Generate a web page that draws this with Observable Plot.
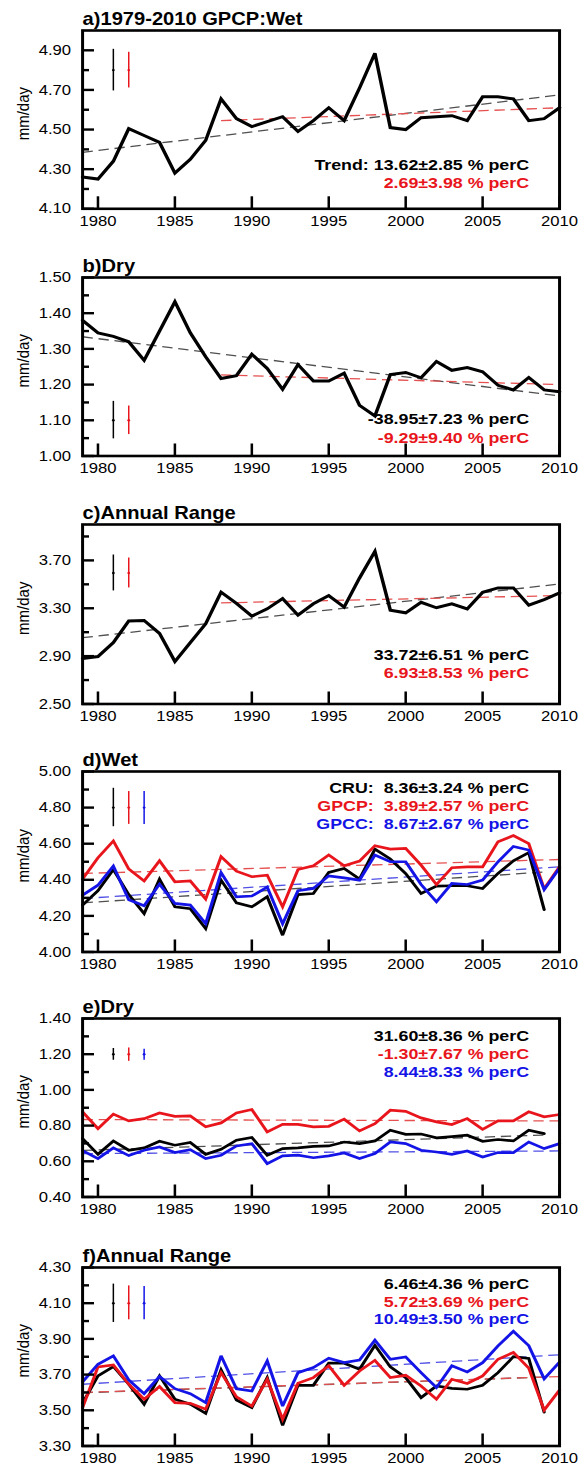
<!DOCTYPE html>
<html>
<head>
<meta charset="utf-8">
<script src="https://cdn.jsdelivr.net/npm/d3@7"></script>
<script src="https://cdn.jsdelivr.net/npm/@observablehq/plot@0.6"></script>
<style>
  html, body { margin: 0; padding: 0; background: #fff; }
  #root { position: relative; width: 579px; height: 1472px; overflow: hidden; background: #fff; }
  .panel { position: absolute; left: 0; transform-origin: 0 0; }
</style>
</head>
<body>
<div id="root"></div>
<script>
// ---------------- data ----------------
const years = [1979,1980,1981,1982,1983,1984,1985,1986,1987,1988,1989,1990,1991,1992,1993,1994,1995,1996,1997,1998,1999,2000,2001,2002,2003,2004,2005,2006,2007,2008,2009,2010];
const xTickYears = [1980,1985,1990,1995,2000,2005,2010];

// a) GPCP wet, b) dry, c) annual range
const gpcpWetA   = [4.26,4.25,4.34,4.505,4.47,4.435,4.28,4.35,4.445,4.655,4.555,4.515,4.54,4.565,4.49,4.545,4.61,4.545,4.71,4.885,4.51,4.50,4.56,4.565,4.57,4.545,4.665,4.665,4.655,4.545,4.555,4.61];
const gpcpDryB   = [1.38,1.345,1.335,1.32,1.268,1.35,1.432,1.345,1.278,1.217,1.225,1.285,1.245,1.187,1.256,1.21,1.21,1.232,1.142,1.112,1.228,1.234,1.219,1.265,1.24,1.248,1.236,1.198,1.185,1.22,1.185,1.18];
const gpcpRangeC = [2.88,2.896,3.013,3.193,3.198,3.09,2.855,3.013,3.17,3.434,3.34,3.234,3.295,3.381,3.243,3.337,3.406,3.31,3.553,3.775,3.284,3.262,3.35,3.304,3.337,3.295,3.434,3.47,3.47,3.326,3.373,3.428];

// d) wet: CRU, GPCP, GPCC
const cruWet  = [4.26,4.34,4.457,4.318,4.213,4.404,4.25,4.24,4.13,4.398,4.272,4.25,4.306,4.093,4.318,4.324,4.441,4.463,4.404,4.57,4.515,4.435,4.324,4.365,4.367,4.367,4.352,4.435,4.505,4.55,4.235];
const gpcpWet = [4.404,4.522,4.615,4.46,4.393,4.506,4.389,4.394,4.293,4.528,4.448,4.417,4.426,4.25,4.457,4.478,4.537,4.478,4.504,4.589,4.57,4.574,4.481,4.374,4.467,4.472,4.472,4.611,4.645,4.60,4.35,4.472];
const gpccWet = [4.315,4.37,4.476,4.29,4.256,4.376,4.269,4.26,4.157,4.44,4.305,4.31,4.36,4.157,4.34,4.352,4.422,4.411,4.398,4.537,4.50,4.50,4.374,4.278,4.38,4.374,4.398,4.50,4.585,4.565,4.345,4.465];

// e) dry
const cruDry  = [0.727,0.639,0.714,0.662,0.675,0.712,0.69,0.705,0.639,0.667,0.718,0.733,0.634,0.671,0.675,0.684,0.686,0.708,0.699,0.714,0.774,0.751,0.753,0.731,0.738,0.746,0.712,0.722,0.714,0.774,0.755];
const gpcpDry = [0.877,0.783,0.864,0.826,0.839,0.871,0.852,0.854,0.793,0.815,0.871,0.89,0.764,0.807,0.807,0.793,0.796,0.836,0.77,0.811,0.886,0.88,0.843,0.821,0.806,0.839,0.779,0.826,0.826,0.877,0.849,0.862];
const gpccDry = [0.66,0.615,0.675,0.632,0.662,0.68,0.649,0.665,0.615,0.634,0.686,0.699,0.587,0.63,0.634,0.62,0.63,0.647,0.615,0.643,0.708,0.699,0.662,0.652,0.639,0.658,0.624,0.649,0.649,0.708,0.671,0.699];

// f) annual range
const cruRange  = [3.54,3.693,3.745,3.646,3.534,3.693,3.562,3.534,3.483,3.726,3.558,3.515,3.683,3.416,3.64,3.64,3.764,3.764,3.73,3.864,3.743,3.683,3.571,3.636,3.623,3.618,3.64,3.711,3.80,3.79,3.49];
const gpcpRange = [3.515,3.743,3.754,3.646,3.562,3.633,3.543,3.539,3.506,3.711,3.575,3.524,3.674,3.45,3.651,3.683,3.749,3.64,3.72,3.78,3.683,3.696,3.636,3.562,3.674,3.65,3.693,3.786,3.824,3.736,3.501,3.614];
const gpccRange = [3.659,3.758,3.805,3.67,3.593,3.689,3.621,3.593,3.543,3.805,3.621,3.608,3.777,3.524,3.711,3.739,3.792,3.767,3.782,3.893,3.786,3.799,3.711,3.627,3.749,3.715,3.767,3.861,3.943,3.862,3.676,3.77];

// trend lines (endpoints)
const trendsA = [{x1:1979,y1:4.385,x2:2010,y2:4.675,s:"k"},{x1:1988,y1:4.545,x2:2010,y2:4.61,s:"r"}];
const trendsB = [{x1:1979,y1:1.334,x2:2010,y2:1.168,s:"k"},{x1:1988,y1:1.227,x2:2010,y2:1.20,s:"r"}];
const trendsC = [{x1:1979,y1:3.054,x2:2010,y2:3.503,s:"k"},{x1:1988,y1:3.345,x2:2010,y2:3.406,s:"r"}];
const trendsD = [{x1:1979,y1:4.272,x2:2009,y2:4.443,s:"k"},{x1:1979,y1:4.435,x2:2010,y2:4.5125,s:"r"},{x1:1979,y1:4.296,x2:2010,y2:4.472,s:"b"}];
const trendsE = [{x1:1979,y1:0.661,x2:2009,y2:0.747,s:"k"},{x1:1979,y1:0.834,x2:2010,y2:0.826,s:"r"},{x1:1979,y1:0.643,x2:2010,y2:0.658,s:"b"}];
const trendsF = [{x1:1979,y1:3.598,x2:2009,y2:3.686,s:"k"},{x1:1979,y1:3.60,x2:2010,y2:3.689,s:"r"},{x1:1979,y1:3.646,x2:2010,y2:3.811,s:"b"}];

// uncertainty bars
const errA = [{x:1981,lo:4.695,mid:4.80,hi:4.905,s:"k"},{x:1982,lo:4.71,mid:4.80,hi:4.89,s:"r"}];
const errB = [{x:1981,lo:1.048,mid:1.10,hi:1.153,s:"k"},{x:1982,lo:1.06,mid:1.10,hi:1.14,s:"r"}];
const errC = [{x:1981,lo:3.445,mid:3.595,hi:3.745,s:"k"},{x:1982,lo:3.47,mid:3.595,hi:3.72,s:"r"}];
const errD = [{x:1981,lo:4.694,mid:4.80,hi:4.907,s:"k"},{x:1982,lo:4.707,mid:4.80,hi:4.889,s:"r"},{x:1983,lo:4.707,mid:4.80,hi:4.889,s:"b"}];
const errE = [{x:1981,lo:1.166,mid:1.20,hi:1.232,s:"k"},{x:1982,lo:1.16,mid:1.20,hi:1.235,s:"r"},{x:1983,lo:1.166,mid:1.20,hi:1.228,s:"b"}];
const errF = [{x:1981,lo:3.992,mid:4.10,hi:4.207,s:"k"},{x:1982,lo:4.007,mid:4.10,hi:4.197,s:"r"},{x:1983,lo:4.007,mid:4.10,hi:4.193,s:"b"}];

// annotation texts
const textsA = [{t:"Trend: 13.62\u00b12.85 % perC",s:"k"},{t:"2.69\u00b13.98 % perC",s:"r"}];
const textsB = [{t:"-38.95\u00b17.23 % perC",s:"k"},{t:"-9.29\u00b19.40 % perC",s:"r"}];
const textsC = [{t:"33.72\u00b16.51 % perC",s:"k"},{t:"6.93\u00b18.53 % perC",s:"r"}];
const textsD = [{t:"CRU:  8.36\u00b13.24 % perC",s:"k"},{t:"GPCP:  3.89\u00b12.57 % perC",s:"r"},{t:"GPCC:  8.67\u00b12.67 % perC",s:"b"}];
const textsE = [{t:"31.60\u00b18.36 % perC",s:"k"},{t:"-1.30\u00b17.67 % perC",s:"r"},{t:"8.44\u00b18.33 % perC",s:"b"}];
const textsF = [{t:"6.46\u00b14.36 % perC",s:"k"},{t:"5.72\u00b13.69 % perC",s:"r"},{t:"10.49\u00b13.50 % perC",s:"b"}];

// y ticks
const yLabA = [4.1,4.3,4.5,4.7,4.9], yMinA = [4.2,4.4,4.6,4.8];
const yLabB = [1.0,1.1,1.2,1.3,1.4,1.5], yMinB = [1.05,1.15,1.25,1.35,1.45];
const yLabC = [2.5,2.9,3.3,3.7], yMinC = [2.7,3.1,3.5,3.9];
const yLabD = [4.0,4.2,4.4,4.6,4.8,5.0], yMinD = [4.1,4.3,4.5,4.7,4.9];
const yLabE = [0.4,0.6,0.8,1.0,1.2,1.4], yMinE = [0.5,0.7,0.9,1.1,1.3];
const yLabF = [3.3,3.5,3.7,3.9,4.1,4.3], yMinF = [3.4,3.6,3.8,4.0,4.2];

const titles = ["a)1979-2010 GPCP:Wet","b)Dry","c)Annual Range","d)Wet","e)Dry","f)Annual Range"];

// ---------------- styling / layout ----------------
const COLORS = {k: "#000000", r: "#e8161c", b: "#1414e6"};
const TREND_COLORS = {k: "#505050", r: "#e65050", b: "#5050e6"};
const S = 1.15;                 // horizontal stretch of the reference figure
const FRAME_L = 82, FRAME_R = 559, TEXT_R = 528.5;
const FONT = "'Liberation Sans', Arial, Helvetica, sans-serif";

const panels = [
  {title: titles[0], domain: [4.1, 5.0], lab: yLabA, min: yMinA, series: [[gpcpWetA, "k"]], trends: trendsA, errs: errA, texts: textsA, side: "bottom", offs: [-43.3, -25.6], top: 30, bottom: 208.3, lw: 3},
  {title: titles[1], domain: [1.0, 1.5], lab: yLabB, min: yMinB, series: [[gpcpDryB, "k"]], trends: trendsB, errs: errB, texts: textsB, side: "bottom", offs: [-36.5, -18.2], top: 277, bottom: 455.5, lw: 3},
  {title: titles[2], domain: [2.5, 4.0], lab: yLabC, min: yMinC, series: [[gpcpRangeC, "k"]], trends: trendsC, errs: errC, texts: textsC, side: "bottom", offs: [-49, -31.3], top: 523.5, bottom: 703, lw: 3},
  {title: titles[3], domain: [4.0, 5.0], lab: yLabD, min: yMinD, series: [[cruWet, "k"], [gpcpWet, "r"], [gpccWet, "b"]], trends: trendsD, errs: errD, texts: textsD, side: "top", offs: [16.8, 34.5, 52.6], top: 770.5, bottom: 951, lw: 2.7},
  {title: titles[4], domain: [0.4, 1.4], lab: yLabE, min: yMinE, series: [[cruDry, "k"], [gpcpDry, "r"], [gpccDry, "b"]], trends: trendsE, errs: errE, texts: textsE, side: "top", offs: [18, 36, 53.7], top: 1018, bottom: 1196.5, lw: 2.7},
  {title: titles[5], domain: [3.3, 4.3], lab: yLabF, min: yMinF, series: [[cruRange, "k"], [gpcpRange, "r"], [gpccRange, "b"]], trends: trendsF, errs: errF, texts: textsF, side: "top", offs: [16.8, 34.5, 51.8], top: 1266.5, bottom: 1445, lw: 2.7}
];

const root = document.getElementById("root");
const W = 579 / S;
const mL = FRAME_L / S, mR = (579 - FRAME_R) / S;
const fw = W - mL - mR;

panels.forEach((p, i) => {
  const svgTop = p.top - 30;
  const nextTop = i < panels.length - 1 ? panels[i + 1].top - 30 : 1472;
  const H = nextTop - svgTop;
  const fh = p.bottom - p.top;

  const marks = [];
  p.trends.forEach(t => marks.push(Plot.link([t], {x1: "x1", y1: "y1", x2: "x2", y2: "y2", stroke: TREND_COLORS[t.s], strokeWidth: 1.3, strokeDasharray: "9,5"})));
  p.series.forEach(([vals, s]) => {
    const rows = vals.map((v, j) => ({year: years[j], v}));
    marks.push(Plot.line(rows, {x: "year", y: "v", stroke: COLORS[s], strokeWidth: p.lw, strokeLinejoin: "miter", strokeMiterlimit: 3}));
  });
  p.errs.forEach(e => {
    marks.push(Plot.ruleX([e], {x: "x", y1: "lo", y2: "hi", stroke: COLORS[e.s], strokeWidth: 1.3}));
    marks.push(Plot.dot([e], {x: "x", y: "mid", r: 1.2, fill: COLORS[e.s], stroke: null}));
  });
  marks.push(Plot.tickY(p.lab, {y: d => d, stroke: "#000", strokeWidth: 2.4, insetRight: fw - 12 / S}));
  marks.push(Plot.tickY(p.min, {y: d => d, stroke: "#000", strokeWidth: 2.4, insetRight: fw - 7 / S}));
  marks.push(Plot.tickX(xTickYears, {x: d => d, stroke: "#000", strokeWidth: 2.2, insetTop: fh - 12}));
  marks.push(Plot.axisY({ticks: p.lab, tickFormat: ".2f", tickSize: 0, tickPadding: 11.5 / S, fontSize: 14.5, label: null}));
  marks.push(Plot.axisX({ticks: xTickYears, tickFormat: "d", tickSize: 0, tickPadding: 6.5, fontSize: 14.5, label: null}));
  marks.push(Plot.text(["mm/day"], {text: d => d, frameAnchor: "left", rotate: -90, lineAnchor: "top", textAnchor: "middle", dx: (16 - FRAME_L) / S, dy: -6, fontSize: 15}));
  marks.push(Plot.text([p.title], {text: d => d, frameAnchor: "top-left", textAnchor: "start", lineAnchor: "bottom", dy: -5, fontWeight: "bold", fontSize: 17.5}));
  p.texts.forEach((t, k) => marks.push(Plot.text([t.t], {
    text: d => d, frameAnchor: p.side === "top" ? "top-right" : "bottom-right",
    textAnchor: "end", lineAnchor: "middle", dx: (TEXT_R - FRAME_R) / S, dy: p.offs[k],
    fill: COLORS[t.s], fontWeight: "bold", fontSize: 15.5
  })));
  marks.push(Plot.frame({stroke: "#000", strokeWidth: 2.6}));

  const svg = Plot.plot({
    width: W, height: H,
    marginTop: 30, marginBottom: H - 30 - fh, marginLeft: mL, marginRight: mR,
    x: {domain: [1979, 2010]},
    y: {domain: p.domain},
    style: {fontFamily: FONT, fontSize: "14px", background: "transparent", overflow: "visible", color: "#000"},
    marks
  });
  const div = document.createElement("div");
  div.className = "panel";
  div.style.top = svgTop + "px";
  div.style.transform = `scaleX(${S})`;
  div.appendChild(svg);
  root.appendChild(div);
});
</script>
</body>
</html>
